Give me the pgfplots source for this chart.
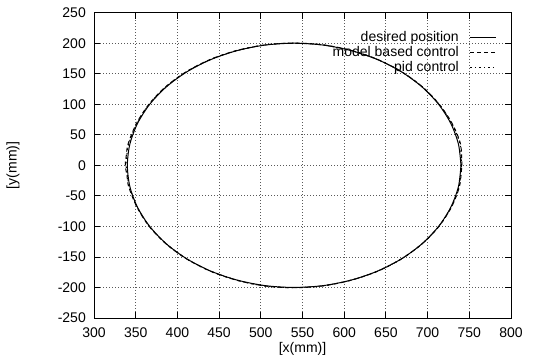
\documentclass[border=0pt]{standalone}
\usepackage{fontspec}
\setmainfont{Liberation Sans}
\usepackage{pgfplots}
\pgfplotsset{compat=1.18}

\begin{document}
\begin{tikzpicture}[font=\fontsize{14bp}{16bp}\selectfont]
\begin{axis}[
  at={(94bp,42bp)}, anchor=south west,
  scale only axis, width=417bp, height=305.3bp,
  xmin=300, xmax=800, ymin=-250, ymax=250,
  xtick={300,350,...,800}, ytick={-250,-200,...,250},
  /pgf/number format/assume math mode=true,
  tick align=inside, major tick length=6bp,
  tick style={black, line width=0.8bp},
  axis line style={black, line width=0.9bp},
  grid=major,
  grid style={black!65, line width=0.8bp, dash pattern=on 1bp off 2bp},
  xticklabel style={inner sep=0pt, yshift=-10bp},
  yticklabel style={inner sep=0pt, xshift=-8bp},
  xlabel={[x(mm)]}, ylabel={[y(mm)]},
  xlabel style={at={(axis description cs:0.5,-0.1015)}, anchor=center},
  ylabel style={at={(axis description cs:-0.1942,0.5)}, anchor=center},
  legend plot pos=right,
  legend cell align=right,
  legend image code/.code={\draw[#1] (0bp,0bp) -- (26bp,0bp);},
  legend style={draw=none, fill=none, inner sep=0pt,
    at={(axis description cs:0.9664,0.9405)}, anchor=north east,
    row sep=2bp, /tikz/column sep=11bp,
    nodes={inner sep=0pt, text height=10bp, text depth=3bp}},
]
% reference trajectory
\addplot[black, line width=1bp, smooth] coordinates {
 (740.0,0) (737.0,34.7) (727.9,68.4) (713.2,100) (693.2,128.6) (668.6,153.2)
 (640.0,173.2) (608.4,187.9) (574.7,197.0) (540.0,200) (505.3,197.0) (471.6,187.9)
 (440.0,173.2) (411.4,153.2) (386.8,128.6) (366.8,100) (352.1,68.4) (343.0,34.7)
 (340.0,0) (343.0,-34.7) (352.1,-68.4) (366.8,-100) (386.8,-128.6) (411.4,-153.2)
 (440.0,-173.2) (471.6,-187.9) (505.3,-197.0) (540.0,-200) (574.7,-197.0) (608.4,-187.9)
 (640.0,-173.2) (668.6,-153.2) (693.2,-128.6) (713.2,-100) (727.9,-68.4) (737.0,-34.7)
 (740.0,0)};
\addlegendentry{desired position}
% model based controller response
\addplot[black, line width=1bp, smooth, dash pattern=on 4bp off 3bp] coordinates {
 (741.0,0) (739.5,34.7) (729.5,68.4) (714.0,100) (693.8,128.6) (668.9,153.2)
 (640.2,173.4) (608.4,188.2) (574.7,197.4) (540.0,200.3) (505.3,197.3) (471.4,188.2)
 (439.6,173.6) (410.8,153.5) (386.0,128.8) (365.8,100) (350.8,68.4) (340.8,34.7)
 (338.8,17) (337.5,0) (339.6,-17) (341.5,-34.7) (351.5,-68.4) (366.2,-100) (386.4,-128.6)
 (411.2,-153.4) (439.8,-173.5) (471.5,-188.3) (505.3,-197.6) (540.0,-200.4) (574.7,-197.4)
 (608.4,-188.1) (640.2,-173.3) (668.8,-153.1) (693.5,-128.4) (713.6,-100) (728.6,-68.4)
 (738.2,-34.7) (741.0,0)};
\addlegendentry{model based control}
% PID controller response
\addplot[black, line width=1bp, smooth, dash pattern=on 1.5bp off 3bp] coordinates {
 (740.5,0) (739.0,34.7) (729.0,68.4) (713.8,100) (693.6,128.6) (668.8,153.3)
 (640.1,173.3) (608.4,188.0) (574.7,197.2) (540.0,200.2) (505.3,197.2) (471.5,188.0)
 (439.8,173.4) (411.0,153.4) (386.3,128.7) (366.2,100) (351.3,68.4) (341.6,34.7)
 (339.4,17) (338.5,0) (340.2,-17) (342.3,-34.7) (351.8,-68.4) (366.5,-100) (386.6,-128.6)
 (411.3,-153.3) (439.9,-173.4) (471.6,-188.1) (505.3,-197.8) (540.0,-200.2) (574.7,-197.2)
 (608.4,-188.0) (640.1,-173.2) (668.7,-153.1) (693.4,-128.5) (713.4,-100) (728.3,-68.4)
 (737.8,-34.7) (740.5,0)};
\addlegendentry{pid control}
\end{axis}
\pgfresetboundingbox
\useasboundingbox (0bp,0bp) rectangle (536bp,360bp);
\end{tikzpicture}
\end{document}
